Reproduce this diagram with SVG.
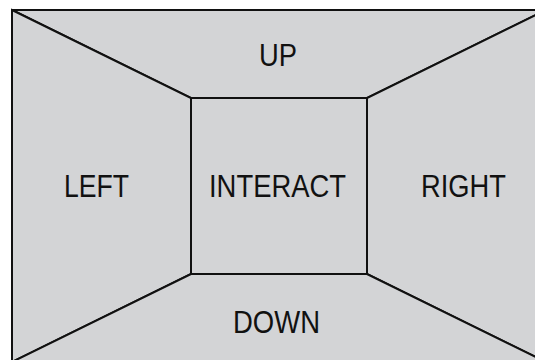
<svg xmlns="http://www.w3.org/2000/svg" width="535" height="360" viewBox="0 0 535 360">
  <style>
    .region { fill: #d3d4d6; stroke: #111; stroke-width: 2; stroke-linejoin: miter; }
    .label { font-family: "Liberation Sans", Arial, sans-serif; font-size: 32px; fill: #111; text-anchor: middle; }
  </style>
  <rect x="0" y="0" width="535" height="360" fill="#ffffff"/>
  <g id="up">
    <polygon class="region" points="12,10 546,10 367,98 191,98"/>
    <text class="label" x="278" y="66" textLength="38" lengthAdjust="spacingAndGlyphs">UP</text>
  </g>
  <g id="left">
    <polygon class="region" points="12,10 191,98 191,274 12,362"/>
    <text class="label" x="96.5" y="197" textLength="65" lengthAdjust="spacingAndGlyphs">LEFT</text>
  </g>
  <g id="right">
    <polygon class="region" points="546,10 546,362 367,274 367,98"/>
    <text class="label" x="463.5" y="197" textLength="85" lengthAdjust="spacingAndGlyphs">RIGHT</text>
  </g>
  <g id="down">
    <polygon class="region" points="191,274 367,274 546,362 12,362"/>
    <text class="label" x="276.5" y="333" textLength="87" lengthAdjust="spacingAndGlyphs">DOWN</text>
  </g>
  <g id="interact">
    <rect class="region" x="191" y="98" width="176" height="176"/>
    <text class="label" x="277.5" y="197" textLength="137" lengthAdjust="spacingAndGlyphs">INTERACT</text>
  </g>
  <g id="connectors"></g>
</svg>
